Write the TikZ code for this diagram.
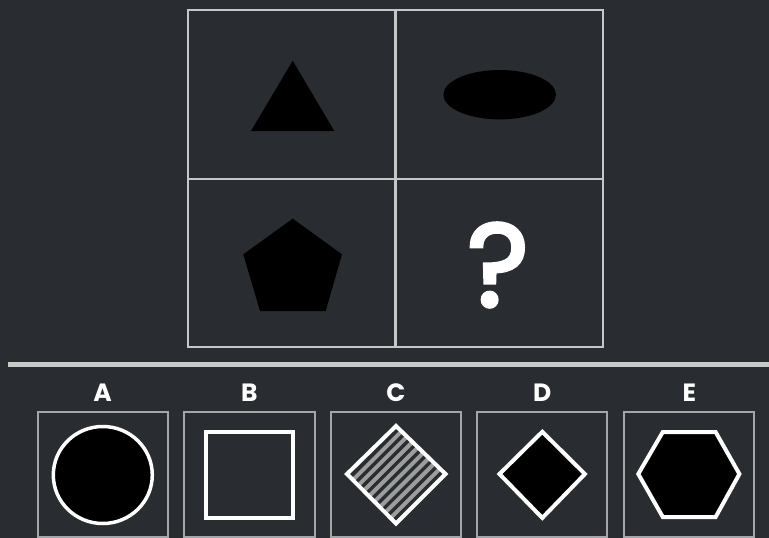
\documentclass[tikz,border=0pt]{standalone}
\usepackage{fontspec}
\newfontfamily\labfont{Poppins}
\newfontfamily\qfont{Poppins}[FakeBold=3]
\definecolor{bg}{HTML}{292D31}
\definecolor{gridc}{HTML}{C4C8C8}
\definecolor{boxc}{HTML}{A4A6A8}
\definecolor{sepc}{HTML}{C8CACA}
\definecolor{stripec}{HTML}{9C9E9E}
\begin{document}
\begin{tikzpicture}[x=1pt,y=-1pt,
  gridline/.style={draw=gridc, line width=2.8pt},
  optbox/.style={draw=boxc, line width=2pt},
  outl/.style={draw=white, line width=4pt, line join=miter},
  lab/.style={text=white, inner sep=0pt, font=\labfont\bfseries\fontsize{25}{25}\selectfont}]
\fill[bg] (0,0) rectangle (769,538);
\useasboundingbox (0,0) rectangle (769,538);
% grid
\draw[gridline] (188,10) rectangle (603,347);
\draw[gridline] (395.5,10) -- (395.5,347);
\draw[gridline] (188,179) -- (603,179);
% cell shapes
\fill[black] (292.7,60.7) -- (251,131) -- (334.3,131) -- cycle;
\fill[black] (499.7,94.7) ellipse [x radius=56.3, y radius=24.7];
\fill[black] (292.7,218.7) -- (243.3,254.3) -- (260,311) -- (325.7,311) -- (342,254.3) -- cycle;
\node[text=white, inner sep=0pt, font=\qfont\fontsize{118}{118}\selectfont] (q) at (498,265) {?};
% separator
\draw[draw=sepc, line width=5pt] (8,364.5) -- (769,364.5);
% labels
\node[lab] (la) at (102.7,392.3) {A};
\node[lab] (lb) at (249.3,392.3) {B};
\node[lab] (lc) at (396,392.3) {C};
\node[lab] (ld) at (542.3,392.3) {D};
\node[lab] (le) at (689.3,392.3) {E};
% option boxes
\draw[optbox] (37.7,411.7) rectangle (167.7,537);
\draw[optbox] (184.3,411.7) rectangle (315,537);
\draw[optbox] (330.7,411.7) rectangle (460.7,537);
\draw[optbox] (477.3,411.7) rectangle (607.3,537);
\draw[optbox] (624.3,411.7) rectangle (754.3,537);
% A circle
\draw[outl, line width=3.5pt, fill=black] (102.8,475) ellipse [x radius=49.5, y radius=48.5];
% B square
\draw[outl] (206,432) rectangle (293,518);
% C striped diamond
\begin{scope}
\clip (396,426) -- (347,474) -- (396,523.5) -- (445.5,474) -- cycle;
\foreach \k in {1,...,8} {
  \pgfmathsetmacro{\s}{822+\k*10.83}
  \draw[draw=stripec, line width=4pt] (330,{\s-330}) -- (460,{\s-460});
}
\end{scope}
\draw[outl] (396,426) -- (347,474) -- (396,523.5) -- (445.5,474) -- cycle;
% D diamond
\draw[outl, fill=black] (542.3,431.8) -- (499.5,474) -- (542.3,517.9) -- (584.9,474) -- cycle;
% E hexagon
\draw[outl, fill=black] (638.3,474) -- (662.8,432) -- (715.6,432) -- (739.4,474) -- (715.6,517) -- (662.8,517) -- cycle;
\end{tikzpicture}
\end{document}
